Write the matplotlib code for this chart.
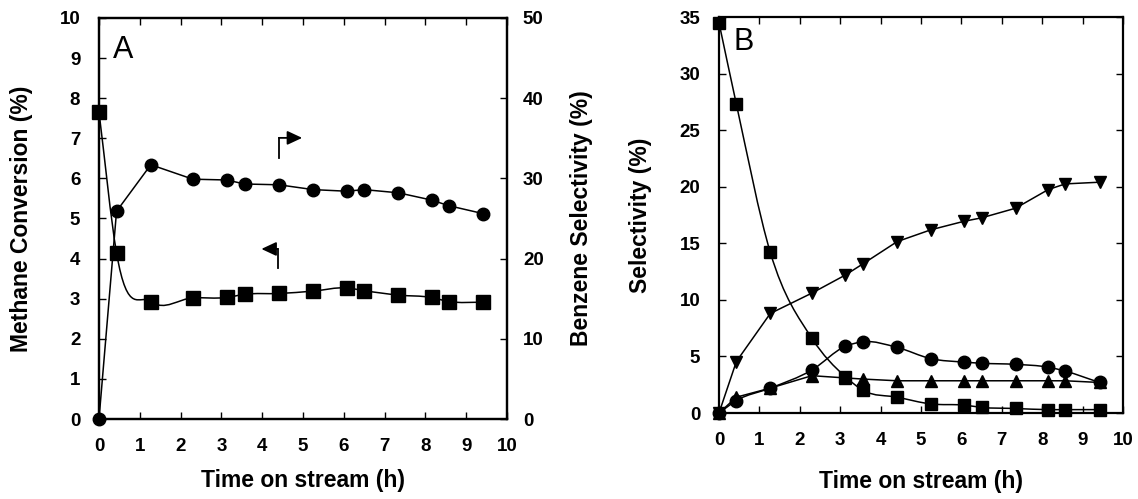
import numpy as np
import matplotlib
matplotlib.use('Agg')
import matplotlib.pyplot as plt
from matplotlib.path import Path
from matplotlib.patches import PathPatch

plt.rcParams['font.family'] = ['Liberation Sans', 'DejaVu Sans']
plt.rcParams['font.weight'] = 'bold'

# time on stream (h), shared by both panels
time_h = [0, 0.43, 1.27, 2.30, 3.13, 3.57, 4.41, 5.25, 6.07, 6.50, 7.34, 8.15, 8.57, 9.42]

# panel A: methane conversion (left axis) and benzene selectivity (right axis)
methane_conv = [7.65, 4.14, 2.93, 3.02, 3.03, 3.11, 3.13, 3.19, 3.27, 3.20, 3.09, 3.03, 2.93, 2.91]
benzene_sel = [0, 25.9, 31.7, 29.9, 29.8, 29.3, 29.2, 28.6, 28.4, 28.6, 28.2, 27.3, 26.6, 25.6]

# panel B: selectivities of the other products
sel_square = [34.5, 27.3, 14.2, 6.6, 3.2, 2.0, 1.4, 0.8, 0.7, 0.5, 0.4, 0.3, 0.3, 0.3]
sel_circle = [0, 1.1, 2.2, 3.8, 5.9, 6.3, 5.8, 4.8, 4.5, 4.4, 4.3, 4.05, 3.7, 2.7]
sel_up = [0, 1.4, 2.2, 3.3, 3.1, 3.0, 2.85, 2.85, 2.85, 2.85, 2.85, 2.85, 2.85, 2.7]
sel_down = [0, 4.55, 8.8, 10.6, 12.2, 13.2, 15.15, 16.2, 16.95, 17.25, 18.1, 19.75, 20.25, 20.4]


def smooth_line(ax, x, y, lw=1.1):
    # cubic Bezier through the points, slopes from 3-point differences
    x = np.asarray(x, float)
    y = np.asarray(y, float)
    h = np.diff(x)
    d = np.diff(y) / h
    m = np.empty_like(y)
    m[0], m[-1] = d[0], d[-1]
    m[1:-1] = (d[:-1] * h[1:] + d[1:] * h[:-1]) / (h[:-1] + h[1:])
    verts = [(x[0], y[0])]
    codes = [Path.MOVETO]
    for i in range(len(h)):
        verts += [(x[i] + h[i] / 3, y[i] + m[i] * h[i] / 3),
                  (x[i + 1] - h[i] / 3, y[i + 1] - m[i + 1] * h[i] / 3),
                  (x[i + 1], y[i + 1])]
        codes += [Path.CURVE4] * 3
    ax.add_patch(PathPatch(Path(verts, codes), fill=False, lw=lw, ec='k'))


def frame(ax):
    for s in ax.spines.values():
        s.set_linewidth(1.6)
    ax.tick_params(direction='in', length=5, width=1.0, labelsize=13.5)


fig = plt.figure(figsize=(11.38, 4.99), dpi=100)

# ---- panel A
axA = fig.add_axes([0.087, 0.1603, 0.3585, 0.8037])
frame(axA)
axA.set_xlim(0, 10)
axA.set_ylim(0, 10)
axA.set_xticks(range(0, 11))
axA.set_yticks(range(0, 11))
axA.tick_params(axis='x', top=True, bottom=True, pad=14)
axA.tick_params(axis='y', left=True, right=False, pad=13.5)

smooth_line(axA, time_h, methane_conv)
axA.plot(time_h, methane_conv, 's', color='k', ms=9.5, zorder=3, clip_on=False)

axA2 = axA.twinx()
frame(axA2)
axA2.set_ylim(0, 50)
axA2.set_yticks(range(0, 51, 10))
axA2.tick_params(axis='y', pad=11.5)
axA2.plot(time_h, benzene_sel, '-o', color='k', lw=1.1, ms=9, clip_on=False)

axA.set_xlabel('Time on stream (h)', fontsize=16.5, fontweight='bold')
axA.set_ylabel('Methane Conversion (%)', fontsize=16.5, fontweight='bold')
axA2.set_ylabel('Benzene Selectivity (%)', fontsize=16.5, fontweight='bold')
axA.xaxis.set_label_coords(0.5, -0.125)
axA.yaxis.set_label_coords(-0.162, 0.5)
axA2.yaxis.set_label_coords(1.154, 0.5)

axA.text(0.034, 0.958, 'A', transform=axA.transAxes, fontsize=22,
         fontweight='normal', ha='left', va='top')

# arrows pointing at the axis each curve belongs to
head = '-|>,head_length=0.9,head_width=0.42'
axA.plot([4.41, 4.41], [6.5, 7.01], color='k', lw=1.3)
axA.annotate('', xy=(4.98, 7.01), xytext=(4.41, 7.01),
             arrowprops=dict(arrowstyle=head, color='k', lw=1.3,
                             shrinkA=0, shrinkB=0))
axA.plot([4.38, 4.38], [3.76, 4.24], color='k', lw=1.3)
axA.annotate('', xy=(3.98, 4.24), xytext=(4.38, 4.24),
             arrowprops=dict(arrowstyle=head, color='k', lw=1.3,
                             shrinkA=0, shrinkB=0))

# ---- panel B
axB = fig.add_axes([0.6318, 0.1723, 0.355, 0.7936])
frame(axB)
axB.set_xlim(0, 10)
axB.set_ylim(0, 35)
axB.set_xticks(range(0, 11))
axB.set_yticks(range(0, 36, 5))
axB.tick_params(axis='x', top=True, bottom=True, pad=14)
axB.tick_params(axis='y', left=True, right=True, pad=13.5)

axB.plot(time_h, sel_down, '-v', color='k', lw=1.1, ms=9, clip_on=False)
axB.plot(time_h, sel_up, '-^', color='k', lw=1.1, ms=9, clip_on=False)
smooth_line(axB, time_h, sel_circle)
axB.plot(time_h, sel_circle, 'o', color='k', ms=9, zorder=3, clip_on=False)
smooth_line(axB, time_h, sel_square)
axB.plot(time_h, sel_square, 's', color='k', ms=9, zorder=3, clip_on=False)

axB.set_xlabel('Time on stream (h)', fontsize=16.5, fontweight='bold')
axB.set_ylabel('Selectivity (%)', fontsize=16.5, fontweight='bold')
axB.xaxis.set_label_coords(0.5, -0.144)
axB.yaxis.set_label_coords(-0.166, 0.5)

axB.text(0.035, 0.975, 'B', transform=axB.transAxes, fontsize=22,
         fontweight='normal', ha='left', va='top')

fig.savefig('out.png', dpi=100)
